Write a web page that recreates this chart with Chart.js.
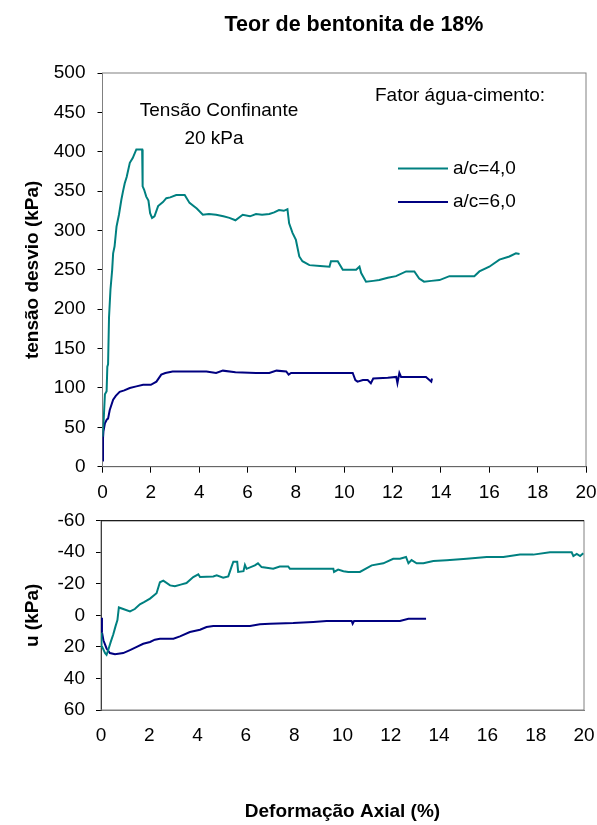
<!DOCTYPE html>
<html>
<head>
<meta charset="utf-8">
<script src="https://cdn.jsdelivr.net/npm/chart.js@4.4.0/dist/chart.umd.min.js"></script>
<style>
  body { margin: 0; background: #fff; }
  #top { position: absolute; left: 0; top: 0; width: 597px; height: 500px; }
  #bottom { position: absolute; left: 0; top: 500px; width: 597px; height: 325px; }
</style>
</head>
<body>
<div id="top"><canvas id="dev"></canvas></div>
<div id="bottom"><canvas id="pore"></canvas></div>
<script>
// deformação axial (%) / tensão desvio (kPa), a/c = 4,0
const strainA = [
  0, 0.05, 0.1, 0.17, 0.2, 0.23, 0.27, 0.33, 0.4, 0.44,
  0.5, 0.58, 0.68, 0.78, 0.85, 0.92, 1.0, 1.13, 1.25, 1.4,
  1.5, 1.64, 1.66, 1.72, 1.81, 1.9, 1.97, 2.05, 2.15, 2.3,
  2.5, 2.64, 2.8, 3.05, 3.25, 3.4, 3.6, 3.9, 4.15, 4.4,
  4.7, 5.0, 5.25, 5.5, 5.8, 6.1, 6.35, 6.6, 6.9, 7.1,
  7.3, 7.5, 7.65, 7.72, 7.86, 8.0, 8.14, 8.27, 8.56, 9.0,
  9.39, 9.45, 9.73, 9.94, 10.2, 10.49, 10.63, 10.7, 10.9, 11.2,
  11.45, 11.8, 12.14, 12.56, 12.9, 13.1, 13.3, 13.6, 13.94, 14.35,
  14.9, 15.38, 15.59, 16.0, 16.42, 16.83, 17.1, 17.25
];
const devA = [
  38, 60, 92, 96, 127, 130, 190, 225, 250, 271,
  280, 305, 320, 339, 350, 360, 368, 386, 392, 403,
  403, 403, 356, 352, 343, 338, 322, 316, 318, 331,
  336, 341, 342, 345, 345, 345, 335, 328, 320, 321,
  320, 318, 316, 313, 320, 318, 321, 320, 321, 323,
  326, 325, 327, 309, 297, 288, 267, 261, 256, 255,
  254, 261, 261, 250, 250, 250, 254, 246, 235, 236,
  237, 240, 242, 248, 248, 239, 235, 236, 237, 242,
  242, 242, 248, 254, 263, 267, 271, 270
];

// a/c = 6,0
const strainB = [
  0, 0.02, 0.04, 0.1, 0.18, 0.23, 0.3, 0.44, 0.55, 0.71,
  0.9, 1.13, 1.4, 1.68, 2.0, 2.23, 2.43, 2.6, 2.9, 3.5,
  4.3, 4.5, 4.7, 4.98, 5.5, 6.35, 6.9, 7.2, 7.6, 7.7,
  7.8, 8.5, 9.5, 10.35, 10.46, 10.55, 10.77, 10.97, 11.1, 11.2,
  11.8, 12.15, 12.2, 12.28, 12.35, 13.0, 13.38, 13.6, 13.63
];
const devB = [
  8, 36, 45, 55, 60, 61, 72, 85, 90, 95,
  97, 100, 102, 104, 104, 108, 117, 119, 121, 121,
  121, 120, 119, 122, 120, 119, 119, 122, 121, 117,
  119, 119, 119, 119, 110, 108, 110, 110, 106, 112,
  113, 114, 106, 119, 114, 114, 114, 108, 112
];

// poropressão u (kPa)
const uStrainA = [
  0, 0.02, 0.05, 0.17, 0.23, 0.3, 0.4, 0.51, 0.6, 0.68,
  0.74, 0.92, 1.2, 1.4, 1.61, 1.8, 2.03, 2.3, 2.44, 2.58,
  2.86, 3.06, 3.3, 3.54, 3.82, 4.03, 4.1, 4.65, 4.79, 5.06,
  5.27, 5.4, 5.48, 5.64, 5.68, 5.9, 5.96, 6.03, 6.37, 6.5,
  6.65, 7.13, 7.4, 7.75, 7.82, 8.5, 9.62, 9.65, 9.82, 10.04,
  10.24, 10.72, 11.21, 11.69, 12.1, 12.38, 12.63, 12.73, 12.86, 13.07,
  13.35, 13.76, 14.31, 15.14, 15.97, 16.66, 17.35, 17.9, 18.59, 19.49,
  19.56, 19.7, 19.84, 19.97
];
const uA = [
  11, 20, 20, 24, 25, 22, 17, 12, 7, 3,
  -5, -4, -2.5, -4, -7, -8.5, -10.6, -14, -21, -22,
  -19, -18.4, -19.5, -20.5, -24.3, -26, -24.3, -24.7, -25.4, -23.9,
  -24.7, -30.6, -34, -34, -27.5, -28, -32, -29.5, -31.7, -33,
  -30.6, -29.6, -31, -31, -29.6, -29.6, -29.6, -27.5, -29, -28,
  -27.5, -27.5, -31.7, -33, -35.9, -35.9, -37, -33, -35, -33,
  -33, -34.4, -34.9, -35.9, -37, -37, -38.5, -38.5, -40, -40,
  -37.6, -39, -37.6, -39.3
];
const uStrainB = [
  0, 0.04, 0.1, 0.23, 0.37, 0.58, 0.92, 1.2, 1.48, 1.75,
  2.03, 2.23, 2.44, 3.0, 3.27, 3.68, 4.1, 4.37, 4.65, 5.48,
  6.17, 6.58, 7.0, 7.96, 8.79, 9.34, 10.17, 10.38, 10.42, 10.48,
  12.38, 12.73, 13.46
];
const uB = [
  1.5, 10.6, 15.8, 21, 23.9, 24.7, 23.9, 22, 20, 18,
  16.9, 15.4, 14.8, 14.8, 13.3, 10.6, 9.1, 7.4, 6.8, 6.8,
  6.8, 5.7, 5.3, 4.9, 4.2, 3.6, 3.6, 3.6, 5.3, 3.6,
  3.6, 2.1, 2.1
];

const seriesLabels = ["a/c=4,0", "a/c=6,0"];
const colors = ["#008080", "#000080"];

Chart.defaults.font.family = "'Liberation Sans', Arial, sans-serif";
Chart.defaults.font.size = 19;
Chart.defaults.color = "#000";

const toXY = (xs, ys) => xs.map((x, i) => ({ x: x, y: ys[i] }));

const line = (label, xs, ys, color) => ({
  label: label,
  data: toXY(xs, ys),
  borderColor: color,
  backgroundColor: color,
  borderWidth: 2,
  pointRadius: 0,
  tension: 0,
  showLine: true,
});

// fixed axis boxes so both plot areas sit where the original ones do
const fixX = (h) => (s) => { s.height = h; s.paddingLeft = 0; s.paddingRight = 0; };
const fixY = (w) => (s) => { s.width = w; s.paddingTop = 0; s.paddingBottom = 0; };

// grey plot-area frame
const frame = {
  id: "frame",
  beforeDatasetsDraw(chart, args, opts) {
    const { ctx, chartArea: a } = chart;
    ctx.save();
    ctx.strokeStyle = "#808080";
    ctx.lineWidth = 1;
    ctx.strokeRect(a.left, a.top, a.right - a.left, a.bottom - a.top);
    if (opts.topBlack) {
      ctx.strokeStyle = "#000";
      ctx.beginPath();
      ctx.moveTo(a.left, a.top);
      ctx.lineTo(a.right, a.top);
      ctx.stroke();
    }
    ctx.restore();
  },
};

// title, notes and legend of the upper chart
const notes = {
  id: "notes",
  afterDraw(chart) {
    const ctx = chart.ctx;
    ctx.save();
    ctx.fillStyle = "#000";
    ctx.textBaseline = "middle";
    ctx.textAlign = "center";
    ctx.font = "bold 21.5px 'Liberation Sans', Arial, sans-serif";
    ctx.fillText("Teor de bentonita de 18%", 354, 25);
    ctx.font = "19px 'Liberation Sans', Arial, sans-serif";
    ctx.fillText("Tensão Confinante", 219, 111);
    ctx.fillText("20 kPa", 214, 139);
    ctx.textAlign = "left";
    ctx.fillText("Fator água-cimento:", 375, 96);
    chart.data.datasets.forEach((ds, i) => {
      const y = 168.5 + i * 33.5;
      ctx.strokeStyle = ds.borderColor;
      ctx.lineWidth = 2;
      ctx.beginPath();
      ctx.moveTo(398, y);
      ctx.lineTo(448, y);
      ctx.stroke();
      ctx.fillText(ds.label, 453, y);
    });
    ctx.restore();
  },
};

new Chart(document.getElementById("dev"), {
  type: "scatter",
  data: {
    datasets: [
      line(seriesLabels[0], strainA, devA, colors[0]),
      line(seriesLabels[1], strainB, devB, colors[1]),
    ],
  },
  options: {
    responsive: true,
    maintainAspectRatio: false,
    animation: false,
    layout: { padding: { top: 73, right: 11, left: 0, bottom: 0 } },
    plugins: { legend: { display: false }, tooltip: { enabled: false }, frame: {} },
    scales: {
      x: {
        type: "linear",
        min: 0,
        max: 20,
        ticks: { stepSize: 2, padding: 9 },
        grid: { drawOnChartArea: false, color: "#000", tickLength: 6 },
        border: { color: "#000" },
        afterFit: fixX(33.3),
      },
      y: {
        min: 0,
        max: 500,
        ticks: { stepSize: 50, padding: 12 },
        grid: { drawOnChartArea: false, color: "#000", tickLength: 5 },
        border: { color: "#000" },
        title: {
          display: true,
          text: "tensão desvio (kPa)",
          font: { weight: "bold", size: 19 },
          padding: { top: 21, bottom: 0 },
        },
        afterFit: fixY(102.5),
      },
    },
  },
  plugins: [frame, notes],
});

new Chart(document.getElementById("pore"), {
  type: "scatter",
  data: {
    datasets: [
      line(seriesLabels[0], uStrainA, uA, colors[0]),
      line(seriesLabels[1], uStrainB, uB, colors[1]),
    ],
  },
  options: {
    responsive: true,
    maintainAspectRatio: false,
    animation: false,
    layout: { padding: { top: 20.7, right: 13, left: 0, bottom: 0 } },
    plugins: { legend: { display: false }, tooltip: { enabled: false }, frame: { topBlack: true } },
    scales: {
      x: {
        type: "linear",
        min: 0,
        max: 20,
        ticks: { stepSize: 2, padding: 14 },
        grid: { display: false, drawTicks: false },
        border: { color: "#808080" },
        title: {
          display: true,
          text: "Deformação Axial (%)",
          font: { weight: "bold", size: 19 },
          padding: { top: 0, bottom: 2 },
        },
        afterFit: fixX(115),
      },
      y: {
        reverse: true,
        min: -60,
        max: 60,
        ticks: { stepSize: 20, padding: 11 },
        grid: { drawOnChartArea: false, color: "#000", tickLength: 5 },
        border: { color: "#000" },
        title: {
          display: true,
          text: "u (kPa)",
          font: { weight: "bold", size: 19 },
          padding: { top: 21, bottom: 0 },
        },
        afterFit: fixY(101),
      },
    },
  },
  plugins: [frame],
});
</script>
</body>
</html>
